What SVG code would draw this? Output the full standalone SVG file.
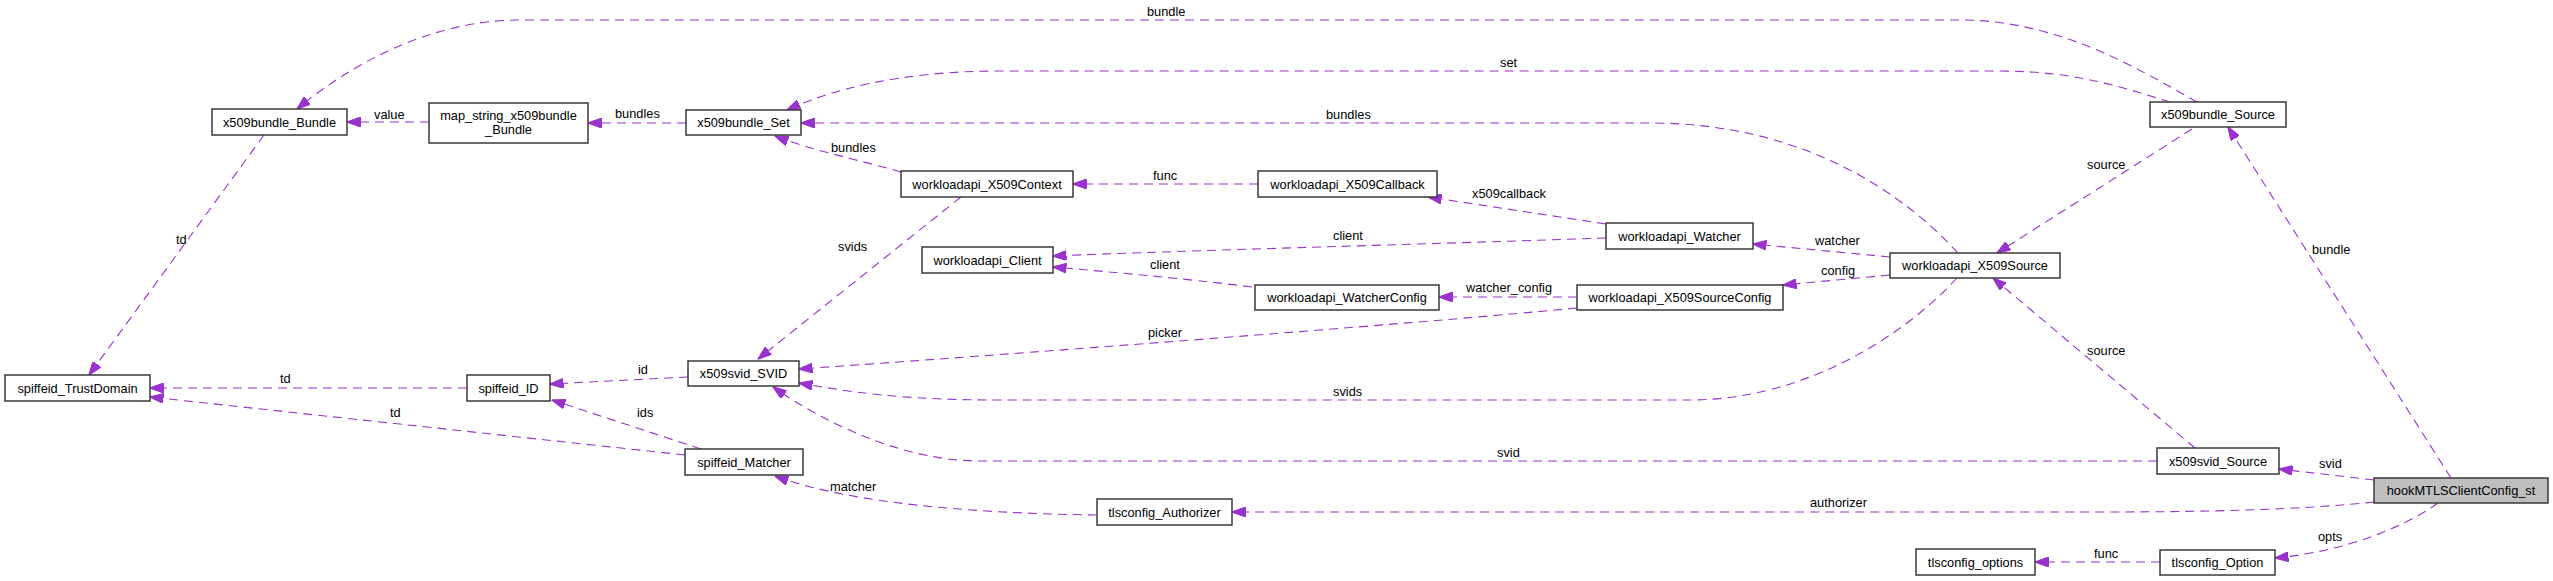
<svg xmlns="http://www.w3.org/2000/svg" width="2553" height="581" viewBox="0 0 2553 581">
<style>
.n rect{fill:#fff;stroke:#3a3a3a;stroke-width:1.5}
.n.main rect{fill:#bfbfbf}
.n text{font-family:"Liberation Sans",Arial,sans-serif;font-size:12.8px;fill:#000;text-anchor:middle}
.e path{fill:none;stroke:#9a32cd;stroke-width:1.1;stroke-dasharray:9,6;marker-end:url(#ah)}
.e text{font-family:"Liberation Sans",Arial,sans-serif;font-size:12.8px;fill:#000}
</style>
<defs>
<marker id="ah" markerUnits="userSpaceOnUse" markerWidth="14" markerHeight="10" viewBox="0 0 14 10" refX="13.5" refY="5" orient="auto">
<path d="M0,0 L14,5 L0,10 z" fill="#9a32cd" stroke="#9a32cd" stroke-width="1" stroke-dasharray="none"/>
</marker>
</defs>
<rect width="2553" height="581" fill="#fff"/>
<g id="edges" class="e">
<path d="M2197,102 C2140,70 2060,20 1960,20 L520,20 C430,20 350,65 297,109"/>
<text x="1147" y="16">bundle</text>
<path d="M2170,102 C2130,90 2080,71 2000,71 L1000,71 C900,71 830,90 787,110"/>
<text x="1500" y="67">set</text>
<path d="M1958,253 C1900,190 1800,123 1650,123 L801,123"/>
<text x="1326" y="119">bundles</text>
<path d="M429,122 L347,122"/>
<text x="374" y="119">value</text>
<path d="M686,123 L588,123"/>
<text x="615" y="118">bundles</text>
<path d="M264,135 L89,375"/>
<text x="176" y="244">td</text>
<path d="M467,388 L150,388"/>
<text x="280" y="383">td</text>
<path d="M685,455 L150,397"/>
<text x="390" y="417">td</text>
<path d="M688,377 L550,384"/>
<text x="638" y="374">id</text>
<path d="M701,449 L552,400"/>
<text x="637" y="417">ids</text>
<path d="M901,172 C860,160 810,150 775,136"/>
<text x="831" y="152">bundles</text>
<path d="M961,197 L758,359"/>
<text x="838" y="251">svids</text>
<path d="M1258,184 L1073,184"/>
<text x="1153" y="180">func</text>
<path d="M1606,224 L1428,197"/>
<text x="1472" y="198">x509callback</text>
<path d="M1606,238 C1400,245 1200,250 1053,256"/>
<text x="1333" y="240">client</text>
<path d="M1252,287 C1180,278 1110,272 1053,267"/>
<text x="1150" y="269">client</text>
<path d="M1577,297 L1439,297"/>
<text x="1466" y="292">watcher_config</text>
<path d="M1577,308 C1400,325 1000,355 799,369"/>
<text x="1148" y="337">picker</text>
<path d="M1890,257 L1753,244"/>
<text x="1815" y="245">watcher</text>
<path d="M1890,275 L1783,285"/>
<text x="1821" y="275">config</text>
<path d="M2192,129 L1997,253"/>
<text x="2087" y="169">source</text>
<path d="M1957,278 C1900,340 1800,400 1690,400 L1000,400 C900,400 850,392 799,383"/>
<text x="1333" y="396">svids</text>
<path d="M2195,448 L1993,278"/>
<text x="2087" y="355">source</text>
<path d="M2157,461 L980,461 C900,461 820,420 773,387"/>
<text x="1497" y="457">svid</text>
<path d="M1097,515 C950,513 840,500 775,476"/>
<text x="830" y="491">matcher</text>
<path d="M2374,502 C2300,510 2200,512 2100,512 L1232,512"/>
<text x="1810" y="507">authorizer</text>
<path d="M2374,480 L2279,469"/>
<text x="2319" y="468">svid</text>
<path d="M2451,478 L2228,127"/>
<text x="2312" y="254">bundle</text>
<path d="M2438,503 C2400,530 2340,552 2275,558"/>
<text x="2318" y="541">opts</text>
<path d="M2160,562 L2035,562"/>
<text x="2094" y="558">func</text>
</g>
<g id="node-x509bundle_Bundle" class="n"><rect x="212" y="109" width="135" height="26"/><text x="279.5" y="126.5">x509bundle_Bundle</text></g>
<g id="node-map_string_x509bundle_Bundle" class="n"><rect x="429" y="103" width="159" height="40"/><text x="508.5" y="119.5">map_string_x509bundle</text><text x="508.5" y="133.5">_Bundle</text></g>
<g id="node-x509bundle_Set" class="n"><rect x="686" y="110" width="115" height="25"/><text x="743.5" y="127">x509bundle_Set</text></g>
<g id="node-spiffeid_TrustDomain" class="n"><rect x="5" y="375" width="145" height="26"/><text x="77.5" y="392.5">spiffeid_TrustDomain</text></g>
<g id="node-spiffeid_ID" class="n"><rect x="467" y="375" width="83" height="26"/><text x="508.5" y="392.5">spiffeid_ID</text></g>
<g id="node-x509svid_SVID" class="n"><rect x="688" y="361" width="111" height="25"/><text x="743.5" y="378">x509svid_SVID</text></g>
<g id="node-spiffeid_Matcher" class="n"><rect x="685" y="449" width="118" height="26"/><text x="744" y="466.5">spiffeid_Matcher</text></g>
<g id="node-workloadapi_X509Context" class="n"><rect x="901" y="171" width="172" height="26"/><text x="987" y="188.5">workloadapi_X509Context</text></g>
<g id="node-workloadapi_Client" class="n"><rect x="922" y="247" width="131" height="26"/><text x="987.5" y="264.5">workloadapi_Client</text></g>
<g id="node-workloadapi_X509Callback" class="n"><rect x="1258" y="171" width="179" height="26"/><text x="1347.5" y="188.5">workloadapi_X509Callback</text></g>
<g id="node-workloadapi_WatcherConfig" class="n"><rect x="1255" y="285" width="184" height="25"/><text x="1347" y="302">workloadapi_WatcherConfig</text></g>
<g id="node-workloadapi_Watcher" class="n"><rect x="1606" y="223" width="147" height="26"/><text x="1679.5" y="240.5">workloadapi_Watcher</text></g>
<g id="node-workloadapi_X509SourceConfig" class="n"><rect x="1577" y="285" width="206" height="25"/><text x="1680" y="302">workloadapi_X509SourceConfig</text></g>
<g id="node-workloadapi_X509Source" class="n"><rect x="1890" y="253" width="170" height="25"/><text x="1975" y="270">workloadapi_X509Source</text></g>
<g id="node-x509bundle_Source" class="n"><rect x="2150" y="102" width="136" height="25"/><text x="2218" y="119">x509bundle_Source</text></g>
<g id="node-tlsconfig_Authorizer" class="n"><rect x="1097" y="499" width="135" height="26"/><text x="1164.5" y="516.5">tlsconfig_Authorizer</text></g>
<g id="node-x509svid_Source" class="n"><rect x="2157" y="448" width="122" height="26"/><text x="2218" y="465.5">x509svid_Source</text></g>
<g id="node-hookMTLSClientConfig_st" class="n main"><rect x="2374" y="478" width="174" height="25"/><text x="2461" y="495">hookMTLSClientConfig_st</text></g>
<g id="node-tlsconfig_Option" class="n"><rect x="2160" y="550" width="115" height="25"/><text x="2217.5" y="567">tlsconfig_Option</text></g>
<g id="node-tlsconfig_options" class="n"><rect x="1916" y="549" width="119" height="26"/><text x="1975.5" y="566.5">tlsconfig_options</text></g>
</svg>
